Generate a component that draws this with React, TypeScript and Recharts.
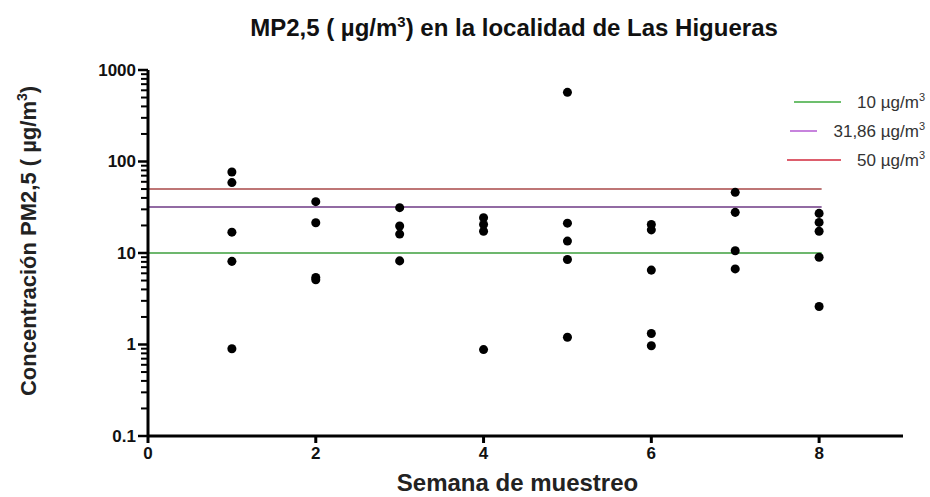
import { ScatterChart, Scatter, XAxis, YAxis, ZAxis, ReferenceLine, Label } from 'recharts'

// valores MP2,5 (µg/m3) por semana de muestreo
const semanas = [1, 2, 3, 4, 5, 6, 7, 8]
const semana1 = [76.9, 58.8, 16.9, 8.1, 0.9]
const semana2 = [36.4, 21.4, 5.4, 5.1]
const semana3 = [31.3, 19.7, 16.1, 8.2]
const semana4 = [24.3, 20.5, 17.3, 0.88]
const semana5 = [570, 21.2, 13.5, 8.5, 1.2]
const semana6 = [20.5, 17.9, 6.5, 1.32, 0.97]
const semana7 = [46, 27.8, 10.6, 6.7]
const semana8 = [27.1, 21.6, 17.3, 9.0, 2.6]

const limites = [10, 31.86, 50]
const limitesColor = ['#3c9f3c', '#6e3a84', '#a84848']
const legendColor = ['#3caa3c', '#b45ad2', '#d2283c']
const legendLargo = [47, 27, 54]

const ticksX = [0, 2, 4, 6, 8]
const ticksY = [0.1, 1, 10, 100, 1000]
// ticks menores del eje logarítmico (2..9 de cada década)
const ticksMenores = ticksY.slice(0, -1).flatMap(t =>
    [2, 3, 4, 5, 6, 7, 8, 9].map(k => +(t * k).toPrecision(3)))

const valores = [semana1, semana2, semana3, semana4, semana5, semana6, semana7, semana8]
const puntos = semanas.flatMap((s, i) => valores[i].map(v => ({ x: s, y: v })))

const FONT = '"Liberation Sans", Arial, sans-serif'

const tickLog = (props: any) => {
    const { x, y, payload } = props
    return (
        <g>
            <line x1={x - 10} x2={x} y1={y} y2={y} stroke="#000" strokeWidth={2.5} />
            <text x={x - 12} y={y} dy="0.35em" textAnchor="end" fontSize={17} fontWeight="bold"
                fill="#111" fontFamily={FONT}>
                {String(payload.value)}
            </text>
        </g>
    )
}

const tickMenor = (props: any) => (
    <path d={`M${props.x1 - 7},${props.y1}H${props.x1}`} stroke="#000" strokeWidth={2} fill="none" />
)

const EtiquetaY = (props: any) => {
    const { viewBox } = props
    const cx = viewBox.x + 28
    const cy = viewBox.y + viewBox.height / 2 - 12
    return (
        <text x={cx} y={cy} transform={`rotate(-90, ${cx}, ${cy})`} textAnchor="middle" dy="0.35em"
            fontSize={22} fontWeight="bold" fill="#222" fontFamily={FONT}>
            Concentración PM2,5 ( µg/m<tspan dy={-9} fontSize={14}>3</tspan><tspan dy={9}>)</tspan>
        </text>
    )
}

export default function App() {
    return (
        <div style={{ position: 'absolute', left: 0, top: 0, width: 930, height: 497, background: '#fff', fontFamily: FONT }}>
            <div style={{ position: 'absolute', top: 13, left: 0, width: 1028, textAlign: 'center', fontSize: 24, fontWeight: 'bold', color: '#111' }}>
                MP2,5 ( µg/m<sup style={{ fontSize: 15 }}>3</sup>) en la localidad de Las Higueras
            </div>

            <div style={{ position: 'absolute', top: 87, right: 5, fontSize: 17, color: '#333' }}>
                {limites.map((l, i) => (
                    <div key={l} style={{ display: 'flex', alignItems: 'center', justifyContent: 'flex-end', height: 29 }}>
                        <svg width={legendLargo[i]} height={4} style={{ marginRight: 16 }}>
                            <line x1={0} x2={legendLargo[i]} y1={2} y2={2} stroke={legendColor[i]} strokeWidth={1.5} />
                        </svg>
                        <span>{String(l).replace('.', ',')} µg/m<sup style={{ fontSize: 11 }}>3</sup></span>
                    </div>
                ))}
            </div>

            <ScatterChart width={930} height={497} margin={{ top: 70, right: 27, bottom: 0, left: 0 }}>
                <XAxis type="number" dataKey="x" domain={[0, 9]} ticks={ticksX} height={61}
                    axisLine={{ stroke: '#000', strokeWidth: 3 }} tickLine={{ stroke: '#000', strokeWidth: 3 }}
                    tickSize={7} tickMargin={4}
                    tick={{ fill: '#111', fontSize: 17, fontWeight: 'bold', fontFamily: FONT }}>
                    <Label value="Semana de muestreo" position="insideBottom" offset={6} dx={-8}
                        style={{ fontSize: 24, fontWeight: 'bold', fill: '#222', fontFamily: FONT }} />
                </XAxis>
                <YAxis type="number" dataKey="y" scale="log" domain={[0.1, 1000]}
                    ticks={ticksY} interval={0} width={148} tickSize={0} tickMargin={0} tickLine={false}
                    axisLine={{ stroke: '#000', strokeWidth: 3 }} tick={tickLog}
                    label={<EtiquetaY />} />
                <ZAxis range={[38, 38]} />
                {ticksMenores.map(t => (
                    <ReferenceLine key={`m-${t}`} y={t} shape={tickMenor} ifOverflow="visible" />
                ))}
                {limites.map((l, i) => (
                    <ReferenceLine key={l} segment={[{ x: 0, y: l }, { x: 8.03, y: l }]}
                        stroke={limitesColor[i]} strokeWidth={1.5} ifOverflow="visible" />
                ))}
                <Scatter data={puntos} fill="#000" isAnimationActive={false} />
            </ScatterChart>
        </div>
    )
}
